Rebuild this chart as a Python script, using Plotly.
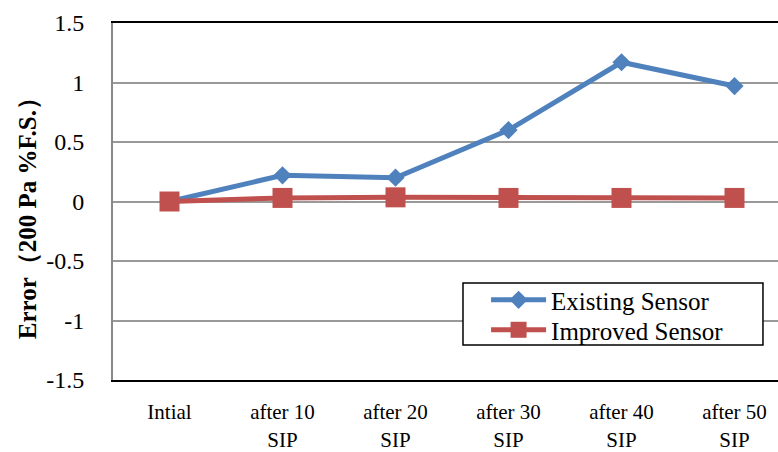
import plotly.graph_objects as go

categories = ["Intial", "after 10<br>SIP", "after 20<br>SIP", "after 30<br>SIP", "after 40<br>SIP", "after 50<br>SIP"]
existing = [0.0, 0.22, 0.20, 0.60, 1.17, 0.97]
improved = [0.0, 0.03, 0.035, 0.03, 0.03, 0.03]
y_ticks = [-1.5, -1, -0.5, 0, 0.5, 1, 1.5]
y_tick_labels = ["-1.5", "-1", "-0.5", "0", "0.5", "1", "1.5"]
y_title = "<b>Error（200 Pa %F.S.）</b>"

FONT = "Liberation Serif"

fig = go.Figure()
fig.add_trace(go.Scatter(
    x=list(range(len(categories))), y=existing, name="Existing Sensor",
    mode="lines+markers", legend="legend",
    line=dict(color="#4F81BD", width=5),
    marker=dict(symbol="diamond", size=14, color="#4F81BD"),
))
fig.add_trace(go.Scatter(
    x=list(range(len(categories))), y=improved, name="Improved Sensor",
    mode="lines+markers", legend="legend2",
    line=dict(color="#C0504D", width=5),
    marker=dict(symbol="square", size=20, color="#C0504D"),
))

# legend frame (paper coords)
fig.add_shape(type="rect", xref="paper", yref="paper",
              x0=0.5263, x1=0.9774, y0=0.098, y1=0.2717,
              line=dict(color="black", width=1.5), fillcolor="white", layer="above")

fig.add_annotation(text=y_title, xref="paper", yref="paper",
                   x=-0.1293, y=0.47, textangle=-90, showarrow=False,
                   xanchor="center", yanchor="middle",
                   font=dict(family=FONT, size=25, color="black"))

leg_common = dict(xanchor="left", yanchor="middle", borderwidth=0,
                  bgcolor="rgba(0,0,0,0)", itemwidth=55,
                  font=dict(family=FONT, size=25, color="black"))

fig.update_layout(
    width=778, height=452,
    margin=dict(l=113, r=0, t=23, b=72, autoexpand=False),
    paper_bgcolor="white", plot_bgcolor="white",
    font=dict(family=FONT, size=21, color="black"),
    showlegend=True,
    legend=dict(x=0.561, y=0.224, **leg_common),
    legend2=dict(x=0.561, y=0.14, **leg_common),
)
fig.update_xaxes(
    tickmode="array", tickvals=list(range(len(categories))), ticktext=categories,
    range=[-0.5, 5.385], automargin=False,
    showgrid=False, zeroline=False,
    showline=True, linecolor="black", linewidth=2, mirror=True,
    ticks="", ticklabelstandoff=12,
    tickfont=dict(family=FONT, size=21, color="black"),
)
fig.update_yaxes(
    tickmode="array", tickvals=y_ticks, ticktext=y_tick_labels,
    range=[-1.5, 1.5], automargin=False,
    showgrid=True, gridcolor="#999999", gridwidth=1.5,
    zeroline=False,
    showline=True, linecolor="#888888", linewidth=2,
    ticks="", ticklabelstandoff=22,
    tickfont=dict(family=FONT, size=24, color="black"),
)

fig.write_html("out.html", config={"displayModeBar": False},
               post_script="document.body.style.margin='0';")
